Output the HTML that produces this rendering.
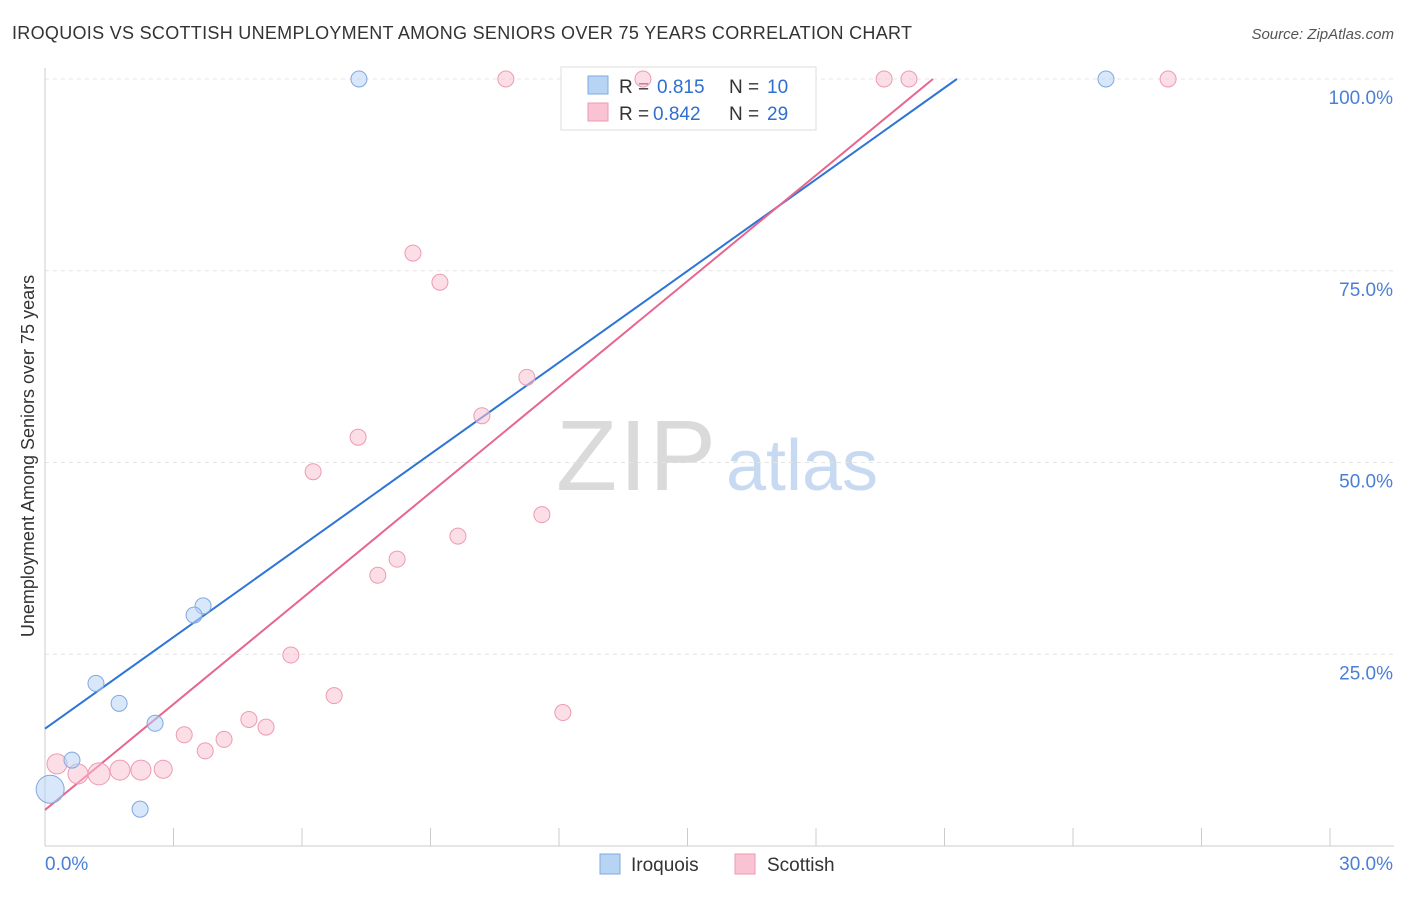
<!DOCTYPE html>
<html><head><meta charset="utf-8"><style>
body{margin:0;background:#fff;font-family:"Liberation Sans",sans-serif;}
svg text{font-family:"Liberation Sans",sans-serif;}
</style></head><body>
<svg id="chart" width="1406" height="892" viewBox="0 0 1406 892" xmlns="http://www.w3.org/2000/svg">
<text x="12" y="39" font-size="18" fill="#333" textLength="900">IROQUOIS VS SCOTTISH UNEMPLOYMENT AMONG SENIORS OVER 75 YEARS CORRELATION CHART</text>
<text x="1394" y="39" font-size="15" fill="#555" font-style="italic" text-anchor="end">Source: ZipAtlas.com</text>
<g>
<text x="636" y="490" font-size="100" fill="#dadada" font-family="Liberation Serif,serif" text-anchor="middle" textLength="160">ZIP</text>
<text x="802" y="490" font-size="72" fill="#c8daf2" text-anchor="middle">atlas</text>
</g>
<g id="grid"></g>
<g id="axes"></g>
<g>
<rect x="561" y="67" width="255" height="63" fill="#fff" stroke="#ddd"/>
<rect x="588" y="76" width="20" height="18" fill="#b8d4f5" stroke="#7fa9df"/>
<text x="619" y="93" font-size="19" fill="#333">R =</text><text x="657" y="93" font-size="19" fill="#2e6fd0">0.815</text>
<text x="729" y="93" font-size="19" fill="#333">N =</text><text x="767" y="93" font-size="19" fill="#2e6fd0">10</text>
<rect x="588" y="103" width="20" height="18" fill="#f9c3d3" stroke="#ee9ab3"/>
<text x="619" y="120" font-size="19" fill="#333">R =</text><text x="653" y="120" font-size="19" fill="#2e6fd0">0.842</text>
<text x="729" y="120" font-size="19" fill="#333">N =</text><text x="767" y="120" font-size="19" fill="#2e6fd0">29</text>
</g>
<g id="lines"></g>
<g id="points"></g>
<text transform="translate(34,456) rotate(-90)" font-size="18" fill="#333" text-anchor="middle">Unemployment Among Seniors over 75 years</text>
<g>
<rect x="600" y="854" width="20" height="20" fill="#b8d4f5" stroke="#7fa9df"/>
<text x="631" y="871" font-size="19" fill="#333">Iroquois</text>
<rect x="735" y="854" width="20" height="20" fill="#f9c3d3" stroke="#ee9ab3"/>
<text x="767" y="871" font-size="19" fill="#333">Scottish</text>
</g>
</svg>
<script>
const xTicks=[0,3,6,9,12,15,18,21,24,27,30];
const yTicks=[25,50,75,100];
const yTickLabels=["25.0%","50.0%","75.0%","100.0%"];
const iroX=[7.33,24.77,3.69,3.48,1.19,1.73,2.57,0.63,0.12,2.22];
const iroY=[100,100,31.3,30.1,21.2,18.6,16.0,11.2,7.4,4.8];
const iroR=[8,8,8,8,8,8,8,8,14,8];
const scoX=[10.76,13.96,19.59,20.17,26.22,8.59,9.22,11.25,10.2,7.31,6.26,11.6,9.64,8.22,7.77,5.74,6.75,12.09,4.76,5.16,3.25,4.18,3.74,2.76,2.24,1.75,1.26,0.77,0.28];
const scoY=[100,100,100,100,100,77.3,73.5,61.1,56.1,53.3,48.8,43.2,40.4,37.4,35.3,24.9,19.6,17.4,16.5,15.5,14.5,13.9,12.4,10.0,9.9,9.9,9.4,9.4,10.7];
const scoR=[8,8,8,8,8,8,8,8,8,8,8,8,8,8,8,8,8,8,8,8,8,8,8,9,10,10,11,10,10];
const iroLine=[0,15.3,21.29,100];
const scoLine=[0,4.7,20.73,100];
const X=v=>45+v*(1330-45)/30;
const Y=v=>846-v*(846-79)/100;
const NS="http://www.w3.org/2000/svg";
function mk(tag,attrs,parent){const e=document.createElementNS(NS,tag);for(const k in attrs)e.setAttribute(k,attrs[k]);document.getElementById(parent).appendChild(e);return e;}
yTicks.forEach((t,i)=>{
 const g=mk('line',{x1:45,x2:1394,y1:Y(t),y2:Y(t),stroke:'#e4e4e4','stroke-dasharray':'4,4'},'grid');
 
 
 const l=mk('text',{x:1393,y:Y(t)+25,'font-size':19,fill:'#4a7fd6','text-anchor':'end'},'axes');
 l.textContent=yTickLabels[i];
 
 
});
const ax=mk('line',{x1:45,x2:45,y1:68,y2:846,stroke:'#ccc'},'axes');


const bx=mk('line',{x1:45,x2:1394,y1:846,y2:846,stroke:'#ccc'},'axes');


xTicks.forEach(t=>{
 const k=mk('line',{x1:X(t),x2:X(t),y1:828,y2:846,stroke:'#ccc'},'axes');
 
 
});
const x0=mk('text',{x:45,y:870,'font-size':19,fill:'#4a7fd6'},'axes');x0.textContent=xTicks[0].toFixed(1)+'%';


const x1=mk('text',{x:1393,y:870,'font-size':19,fill:'#4a7fd6','text-anchor':'end'},'axes');x1.textContent=xTicks[xTicks.length-1].toFixed(1)+'%';


function pts(xs,ys,rs,fill,stroke,name){xs.forEach((v,i)=>{
 const c=mk('circle',{cx:X(v),cy:Y(ys[i]),r:rs[i],fill:fill,'fill-opacity':0.55,stroke:stroke,'stroke-width':1},'points');
 
 
});}
pts(scoX,scoY,scoR,'#f9c3d3','#ee9ab3','scottish-point');
pts(iroX,iroY,iroR,'#b8d4f5','#7fa9df','iroquois-point');
const l1=mk('line',{x1:X(iroLine[0]),y1:Y(iroLine[1]),x2:X(iroLine[2]),y2:Y(iroLine[3]),stroke:'#2e75d6','stroke-width':2},'lines');


const l2=mk('line',{x1:X(scoLine[0]),y1:Y(scoLine[1]),x2:X(scoLine[2]),y2:Y(scoLine[3]),stroke:'#e8658f','stroke-width':2},'lines');


</script>
</body></html>
